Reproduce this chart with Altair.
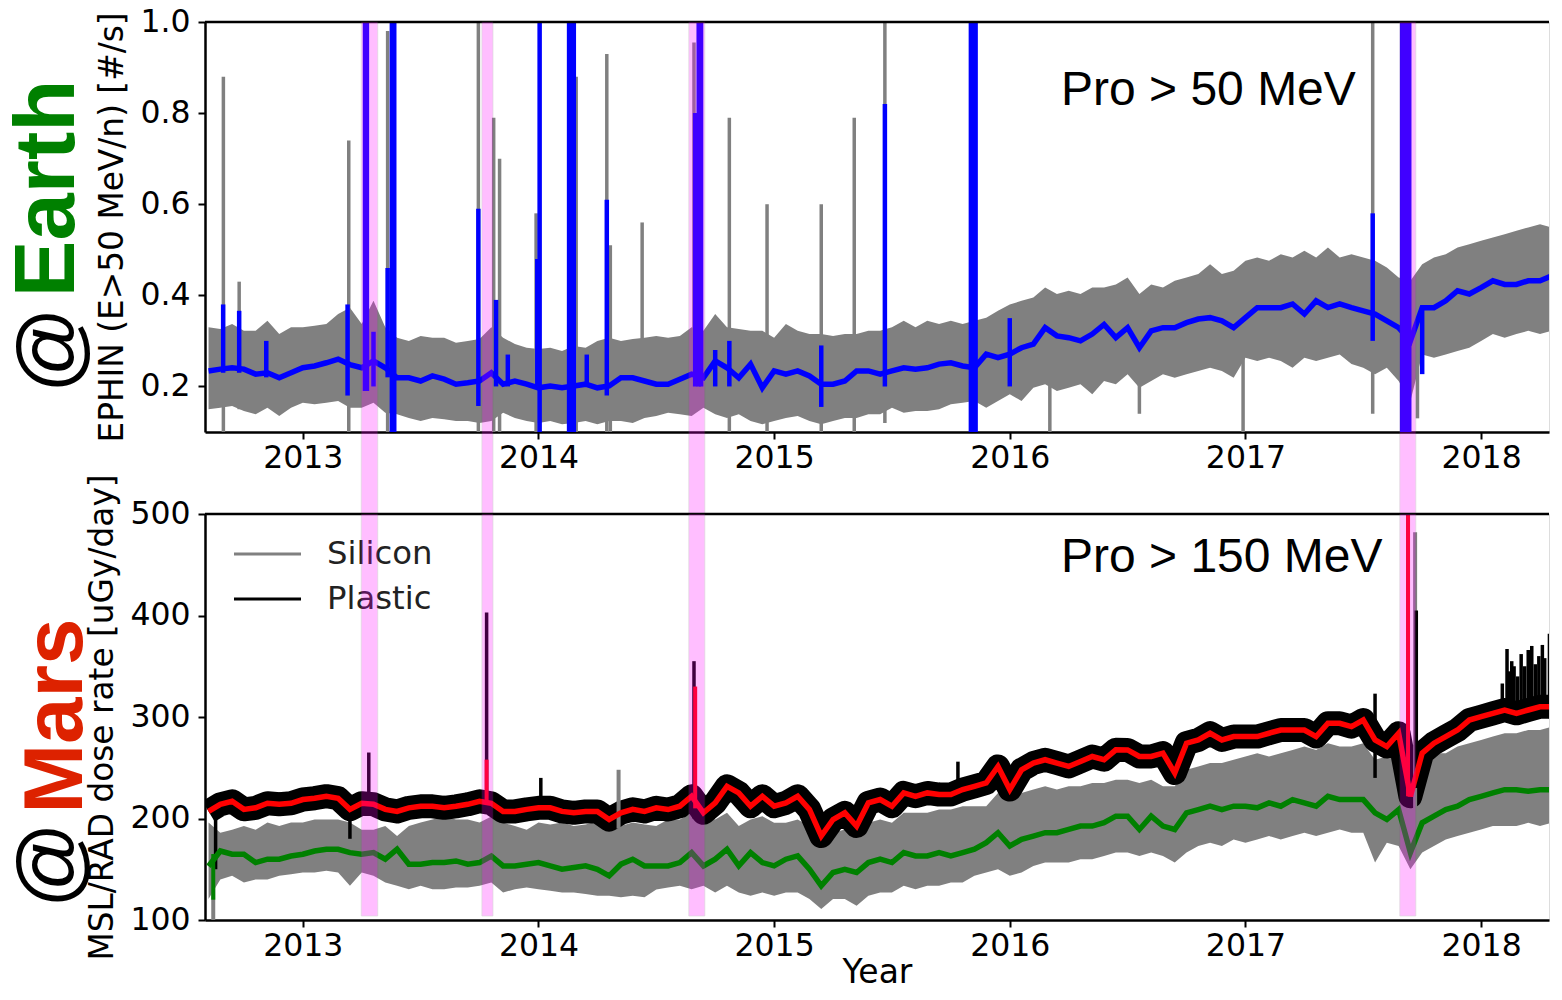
import altair as alt
import pandas as pd

# ---------------- data ----------------
years = [
    2012.60, 2012.65, 2012.70, 2012.75, 2012.80, 2012.85, 2012.90, 2012.95, 2013.00, 2013.05,
    2013.10, 2013.15, 2013.20, 2013.25, 2013.30, 2013.35, 2013.40, 2013.45, 2013.50, 2013.55,
    2013.60, 2013.65, 2013.70, 2013.75, 2013.80, 2013.85, 2013.90, 2013.95, 2014.00, 2014.05,
    2014.10, 2014.15, 2014.20, 2014.25, 2014.30, 2014.35, 2014.40, 2014.45, 2014.50, 2014.55,
    2014.60, 2014.65, 2014.70, 2014.75, 2014.80, 2014.85, 2014.90, 2014.95, 2015.00, 2015.05,
    2015.10, 2015.15, 2015.20, 2015.25, 2015.30, 2015.35, 2015.40, 2015.45, 2015.50, 2015.55,
    2015.60, 2015.65, 2015.70, 2015.75, 2015.80, 2015.85, 2015.90, 2015.95, 2016.00, 2016.05,
    2016.10, 2016.15, 2016.20, 2016.25, 2016.30, 2016.35, 2016.40, 2016.45, 2016.50, 2016.55,
    2016.60, 2016.65, 2016.70, 2016.75, 2016.80, 2016.85, 2016.90, 2016.95, 2017.00, 2017.05,
    2017.10, 2017.15, 2017.20, 2017.25, 2017.30, 2017.35, 2017.40, 2017.45, 2017.50, 2017.55,
    2017.60, 2017.65, 2017.70, 2017.75, 2017.80, 2017.85, 2017.90, 2017.95, 2018.00, 2018.05,
    2018.10, 2018.15, 2018.20, 2018.25, 2018.30, 2018.35,
]

# Earth: EPHIN raw count envelope (upper / lower) and smoothed rate
ephin_hi = [
    0.330, 0.326, 0.337, 0.322, 0.322, 0.344, 0.315, 0.330, 0.330, 0.333,
    0.337, 0.359, 0.373, 0.337, 0.388, 0.330, 0.307, 0.300, 0.311, 0.307,
    0.307, 0.296, 0.300, 0.304, 0.330, 0.307, 0.293, 0.285, 0.282, 0.285,
    0.278, 0.289, 0.285, 0.300, 0.307, 0.300, 0.304, 0.307, 0.311, 0.307,
    0.311, 0.330, 0.322, 0.359, 0.330, 0.326, 0.322, 0.322, 0.307, 0.337,
    0.322, 0.315, 0.315, 0.311, 0.315, 0.315, 0.322, 0.322, 0.330, 0.344,
    0.330, 0.344, 0.337, 0.344, 0.337, 0.344, 0.351, 0.366, 0.380, 0.388,
    0.395, 0.417, 0.403, 0.410, 0.403, 0.417, 0.417, 0.424, 0.439, 0.403,
    0.424, 0.417, 0.432, 0.439, 0.447, 0.468, 0.447, 0.454, 0.476, 0.483,
    0.476, 0.490, 0.483, 0.498, 0.483, 0.505, 0.483, 0.490, 0.483, 0.476,
    0.461, 0.439, 0.432, 0.468, 0.483, 0.490, 0.505, 0.512, 0.520, 0.527,
    0.534, 0.542, 0.549, 0.556, 0.549, 0.542,
]
ephin_lo = [
    0.150, 0.153, 0.157, 0.146, 0.139, 0.153, 0.135, 0.153, 0.164, 0.161,
    0.164, 0.168, 0.153, 0.153, 0.164, 0.142, 0.139, 0.131, 0.124, 0.131,
    0.128, 0.124, 0.124, 0.120, 0.124, 0.142, 0.131, 0.124, 0.120, 0.124,
    0.117, 0.120, 0.124, 0.117, 0.124, 0.124, 0.120, 0.131, 0.135, 0.142,
    0.139, 0.135, 0.153, 0.139, 0.131, 0.139, 0.124, 0.117, 0.124, 0.131,
    0.135, 0.124, 0.117, 0.124, 0.131, 0.131, 0.139, 0.139, 0.153, 0.142,
    0.146, 0.146, 0.150, 0.161, 0.164, 0.168, 0.153, 0.168, 0.183, 0.168,
    0.197, 0.205, 0.190, 0.197, 0.205, 0.183, 0.212, 0.205, 0.227, 0.197,
    0.212, 0.227, 0.219, 0.227, 0.234, 0.241, 0.234, 0.219, 0.263, 0.256,
    0.263, 0.256, 0.241, 0.263, 0.256, 0.263, 0.270, 0.249, 0.241, 0.227,
    0.241, 0.212, 0.168, 0.270, 0.263, 0.270, 0.278, 0.285, 0.300, 0.315,
    0.307, 0.315, 0.322, 0.315, 0.322, 0.329,
]
ephin_smooth = [
    0.234, 0.238, 0.241, 0.238, 0.227, 0.230, 0.219, 0.230, 0.241, 0.245,
    0.252, 0.260, 0.248, 0.241, 0.256, 0.241, 0.219, 0.219, 0.212, 0.223,
    0.216, 0.205, 0.208, 0.212, 0.230, 0.205, 0.212, 0.205, 0.197, 0.201,
    0.197, 0.201, 0.205, 0.197, 0.201, 0.219, 0.219, 0.212, 0.205, 0.205,
    0.216, 0.227, 0.219, 0.256, 0.241, 0.219, 0.249, 0.197, 0.234, 0.227,
    0.234, 0.223, 0.205, 0.205, 0.212, 0.234, 0.234, 0.227, 0.234, 0.241,
    0.238, 0.241, 0.249, 0.252, 0.245, 0.241, 0.271, 0.263, 0.271, 0.285,
    0.293, 0.329, 0.311, 0.307, 0.300, 0.315, 0.336, 0.307, 0.329, 0.285,
    0.322, 0.329, 0.329, 0.340, 0.348, 0.351, 0.344, 0.329, 0.351, 0.373,
    0.373, 0.373, 0.381, 0.359, 0.388, 0.373, 0.381, 0.373, 0.366, 0.359,
    0.344, 0.329, 0.300, 0.373, 0.373, 0.388, 0.410, 0.403, 0.417, 0.432,
    0.424, 0.424, 0.432, 0.432, 0.443, 0.424,
]

# Earth: isolated short spikes (raw = gray, smoothed = blue)
ephin_gray_spike_year = [2012.663, 2012.730, 2013.195, 2013.360, 2013.745, 2013.810, 2013.835,
                         2013.990, 2014.130, 2014.160, 2014.290, 2014.305, 2014.440, 2014.660,
                         2014.810, 2014.970, 2015.200, 2015.340, 2015.470, 2015.850, 2016.170,
                         2016.550, 2016.990, 2017.540, 2017.730]
ephin_gray_spike_lo = [0.10, 0.15, 0.10, 0.10, 0.10, 0.10, 0.10, 0.10, 0.10, 0.10, 0.10, 0.10,
                       0.15, 0.15, 0.10, 0.10, 0.10, 0.10, 0.12, 0.10, 0.10, 0.14, 0.10, 0.14, 0.13]
ephin_gray_spike_hi = [0.88, 0.43, 0.74, 0.98, 1.00, 0.79, 0.70, 0.58, 1.00, 0.88, 0.93, 0.51,
                       0.56, 0.955, 0.79, 0.60, 0.60, 0.79, 1.00, 1.00, 0.25, 0.30, 0.30, 1.00, 0.40]

ephin_blue_spike_year = [2012.662, 2012.730, 2012.845, 2013.190, 2013.264, 2013.272, 2013.300,
                         2013.360, 2013.378, 2013.388, 2013.745, 2013.820, 2013.870, 2013.995,
                         2014.005, 2014.130, 2014.140, 2014.150, 2014.205, 2014.290, 2014.665,
                         2014.680, 2014.690, 2014.750, 2014.810, 2015.200, 2015.470, 2015.835,
                         2015.845, 2015.855, 2016.000, 2017.540, 2017.665, 2017.680, 2017.695,
                         2017.750]
ephin_blue_spike_lo = [0.23, 0.23, 0.22, 0.18, 0.19, 0.19, 0.20, 0.22, 0.10, 0.10,
                       0.157, 0.20, 0.20, 0.20, 0.10, 0.10, 0.10, 0.10, 0.20, 0.18,
                       0.20, 0.20, 0.20, 0.20, 0.20, 0.155, 0.20, 0.10, 0.10, 0.10,
                       0.20, 0.30, 0.10, 0.10, 0.10, 0.227]
ephin_blue_spike_hi = [0.38, 0.366, 0.30, 0.38, 1.00, 1.00, 0.32, 0.46, 1.00, 1.00,
                       0.59, 0.39, 0.27, 0.48, 1.00, 1.00, 1.00, 1.00, 0.27, 0.61,
                       0.80, 1.00, 1.00, 0.28, 0.30, 0.29, 0.82, 1.00, 1.00, 1.00,
                       0.35, 0.58, 1.00, 1.00, 1.00, 0.37]

# Mars: MSL/RAD dose rates
plastic_smooth = [
    207, 214, 217, 209, 210.5, 215, 214, 215, 218.7, 220,
    222, 220, 209, 215, 214, 209, 207, 210.5, 212, 212,
    210.5, 212, 214, 217, 215, 207, 207, 209, 210.5, 210.5,
    207, 205.6, 207, 207, 199, 205.6, 209, 207, 210.5, 208.8,
    212.1, 221.9, 205.6, 215.4, 231.7, 225.2, 212.1, 221.9, 212.1, 215.4,
    221.9, 208.8, 182.7, 199, 205.6, 192.5, 215.4, 218.7, 212.1, 225.2,
    221.9, 225.2, 223.6, 223.6, 228.5, 231.7, 235, 251.3, 228.5, 248,
    254.6, 257.9, 254.6, 251.3, 256.2, 261.1, 257.9, 267.7, 267.6, 261.1,
    261.1, 264.4, 244.8, 274.2, 277.4, 284, 277.4, 280.7, 280.7, 280.7,
    284, 287.2, 287.2, 287.2, 280.7, 293.8, 293.8, 290.5, 297, 277.4,
    270.9, 284, 221.9, 264.4, 274.2, 280.7, 287.2, 297, 300.3, 303.6,
    306.9, 303.6, 306.9, 310.1, 310.1, 303.6,
]
silicon_smooth = [
    153, 168, 164.8, 164.8, 156.6, 159.9, 159.9, 163, 164.8, 168,
    169.7, 169.7, 166.4, 164.8, 166.4, 159.9, 169.7, 155, 155, 156.6,
    156.6, 158.2, 155, 156.6, 163, 153.3, 153.3, 155, 156.6, 153.3,
    150, 151.7, 153.3, 150, 143.5, 155, 159.9, 153.3, 153.3, 153.3,
    156.6, 166.4, 153.3, 159.9, 169.7, 153.3, 166.4, 156.6, 153.3, 159.9,
    163.1, 150, 133.7, 146.8, 150, 146.8, 156.6, 159.9, 156.6, 166.4,
    163.1, 163.1, 166.4, 163.1, 166.4, 169.7, 176.2, 186, 172.9, 179.4,
    182.7, 186, 186, 189.2, 192.5, 192.5, 195.8, 202.3, 202.3, 189.2,
    202.3, 192.5, 189.2, 205.5, 208.8, 212.1, 208.8, 212.1, 212.1, 210.5,
    215.4, 212.1, 218.6, 215.4, 212.1, 221.9, 218.6, 218.6, 218.6, 205.5,
    199, 208.8, 166.4, 195.8, 202.3, 208.8, 212.1, 218.6, 221.9, 225.2,
    228.4, 228.4, 226.8, 228.4, 228.4, 225.2,
]
silicon_hi = [
    196, 186, 189, 192.5, 189, 196, 192.5, 196, 196, 199,
    199, 199, 196, 189, 189, 192.5, 182.7, 192.5, 196, 199,
    202, 199, 199, 196, 202, 196, 192.5, 189, 196, 194,
    196, 192.5, 194, 197.4, 191, 192.5, 196, 194, 192.5, 199,
    199, 205.6, 202.3, 199, 205.6, 192.5, 199, 202.3, 195.8, 195.8,
    199, 192.5, 176.2, 186, 189.2, 182.7, 195.8, 199, 195.8, 205.6,
    205.6, 205.6, 208.8, 208.8, 212.1, 212.1, 212.1, 225.2, 218.7, 225.2,
    228.5, 231.7, 228.5, 231.7, 231.7, 235, 235, 238.3, 238.3, 235,
    238.3, 231.7, 231.7, 248, 251.3, 254.6, 254.6, 257.8, 261.1, 264.4,
    261.1, 264.4, 267.6, 270.9, 267.6, 274.2, 270.9, 270.9, 274.2, 257.8,
    261.1, 264.4, 251.3, 257.8, 264.4, 264.4, 270.9, 274.2, 277.4, 280.7,
    284, 284, 287.2, 287.2, 290.5, 290.5,
]
silicon_lo = [
    120.6, 140, 143.5, 137, 140, 140, 143.5, 145, 146.8, 146.8,
    148.4, 146.8, 133.7, 146.8, 143.5, 137, 133.7, 130.4, 133.7, 130.4,
    130.4, 132, 132, 133.7, 137, 127, 130.4, 132, 130.4, 128.8,
    127, 127, 125.5, 123.9, 123.9, 122.3, 123.9, 122.3, 130, 132,
    133.7, 130.4, 133.7, 127.2, 133.7, 127.2, 123.9, 127.2, 123.9, 127.2,
    127.2, 120.6, 110.8, 120.6, 120.6, 114.1, 123.9, 127.2, 127.2, 133.7,
    130.4, 133.7, 133.7, 137, 137, 143.5, 146.8, 150, 143.5, 146.8,
    153.3, 156.6, 156.6, 156.6, 159.9, 159.9, 163.1, 166.4, 166.4, 163.1,
    166.4, 163.1, 156.6, 166.4, 172.9, 176.1, 172.9, 179.4, 176.1, 179.4,
    182.7, 179.4, 182.7, 186, 182.7, 186, 189.2, 186, 186, 156.6,
    176.1, 172.9, 150, 166.4, 172.9, 179.4, 182.7, 186, 189.2, 192.5,
    192.5, 192.5, 195.8, 192.5, 195.8, 186,
]

plastic_spike_year = [2012.630, 2013.200, 2013.280, 2013.780, 2014.010, 2014.660, 2015.780,
                      2017.550, 2017.690, 2017.725, 2018.090, 2018.110, 2018.120, 2018.130,
                      2018.140, 2018.155, 2018.170, 2018.185, 2018.200, 2018.215, 2018.230,
                      2018.245, 2018.260, 2018.270, 2018.290, 2018.300, 2018.310, 2018.320,
                      2018.330, 2018.340]
plastic_spike_lo = [150, 180, 210, 215, 210, 200, 220, 240, 222, 230,
                    300, 300, 300, 300, 300, 300, 300, 300, 300, 300,
                    300, 300, 300, 300, 300, 300, 300, 300, 300, 300]
plastic_spike_hi = [200, 210, 265, 403, 240, 355, 256, 323, 500, 405,
                    333, 367, 345, 355, 350, 340, 362, 350, 366, 370,
                    352, 360, 371, 358, 382, 370, 388, 375, 400, 392]
red_spike_year = [2013.780, 2014.665, 2017.690]
red_spike_lo = [215, 210, 222]
red_spike_hi = [258, 330, 500]
silicon_spike_year = [2012.620, 2014.340, 2017.720]
silicon_spike_lo = [100, 190, 160]
silicon_spike_hi = [160, 248, 482]
green_spike_year = [2012.620]
green_spike_lo = [120]
green_spike_hi = [165]

# shaded solar-event intervals
pink_start = [2013.248, 2013.760, 2014.638, 2017.655]
pink_end = [2013.318, 2013.807, 2014.706, 2017.723]

# texts
x_ticks = [2013, 2014, 2015, 2016, 2017, 2018]
top_y_ticks = [0.2, 0.4, 0.6, 0.8, 1.0]
bot_y_ticks = [100, 200, 300, 400, 500]
top_title = "EPHIN (E>50 MeV/n) [#/s]"
bot_title = "MSL/RAD dose rate [uGy/day]"
top_note = "Pro > 50 MeV"
bot_note = "Pro > 150 MeV"
legend_labels = ["Silicon", "Plastic"]
legend_colors = ["#808080", "#000000"]

# ---------------- layout constants ----------------
PX_PER_YEAR = 235.66
X0 = 2012.585
W = 1344
H1 = 410
H2 = 406
GAP = 82
FONT = "DejaVu Sans"

xscale = alt.Scale(domain=[X0, X0 + W / PX_PER_YEAR], nice=False, zero=False)
y1scale = alt.Scale(domain=[0.1, 1.0], nice=False, zero=False)
y2scale = alt.Scale(domain=[100, 500], nice=False, zero=False)

axis_common = dict(labelFont=FONT, labelFontSize=31.5, labelColor="black",
                   tickColor="black", tickSize=7, tickWidth=2,
                   domainColor="black", domainWidth=2.5, grid=False,
                   titleFont=FONT, titleFontWeight="normal", titleColor="black")
x_axis_top = alt.Axis(values=x_ticks, format="d", title=None, labelPadding=3, **axis_common)
x_axis_bot = alt.Axis(values=x_ticks, format="d", title="Year", labelPadding=3,
                      titleFontSize=33, titlePadding=-5, **axis_common)
y_axis_top = alt.Axis(values=top_y_ticks, format=".1f", title=top_title, titleFontSize=32.8,
                      labelPadding=8, titlePadding=10, **axis_common)
y_axis_bot = alt.Axis(values=bot_y_ticks, format="d", title=bot_title, titleFontSize=32.8,
                      labelPadding=8, titlePadding=10, **axis_common)


def X(field, axis):
    return alt.X(f"{field}:Q", scale=xscale, axis=axis)


def txt(label):
    return alt.Chart(pd.DataFrame({"t": [label]}))


# ---------------- top panel (Earth) ----------------
top_df = pd.DataFrame({"year": years, "hi": ephin_hi, "lo": ephin_lo, "val": ephin_smooth})
gspk = pd.DataFrame({"year": ephin_gray_spike_year, "lo": ephin_gray_spike_lo, "hi": ephin_gray_spike_hi})
bspk = pd.DataFrame({"year": ephin_blue_spike_year, "lo": ephin_blue_spike_lo, "hi": ephin_blue_spike_hi})
pink_df = pd.DataFrame({"year": pink_start, "year_end": pink_end})


def Y1(field):
    return alt.Y(f"{field}:Q", scale=y1scale, axis=y_axis_top)


t_band = alt.Chart(top_df).mark_area(color="#808080", clip=True).encode(
    x=X("year", x_axis_top), y=Y1("hi"), y2="lo:Q")
t_gspk = alt.Chart(gspk).mark_rule(color="#808080", strokeWidth=3.5, clip=True).encode(
    x=X("year", x_axis_top), y=Y1("lo"), y2="hi:Q")
t_line = alt.Chart(top_df).mark_line(color="#0000ff", strokeWidth=5.5, clip=True).encode(
    x=X("year", x_axis_top), y=Y1("val"))
t_bspk = alt.Chart(bspk).mark_rule(color="#0000ff", strokeWidth=4.5, clip=True).encode(
    x=X("year", x_axis_top), y=Y1("lo"), y2="hi:Q")
t_spine = alt.Chart(pd.DataFrame({"a": [0]})).mark_rule(color="black", strokeWidth=2.5).encode(
    x=alt.value(0), x2=alt.value(W), y=alt.value(0))
t_note = txt(top_note).mark_text(font="Liberation Sans", fontSize=48, align="left",
                                 baseline="middle", color="black").encode(
    text="t:N", x=alt.value(856), y=alt.value(69))
t_at = txt("@").mark_text(font="Liberation Sans", fontSize=85, angle=270, align="center",
                          baseline="middle", color="black").encode(
    text="t:N", x=alt.value(-153), y=alt.value(328))
t_earth = txt("Earth").mark_text(font="Liberation Sans", fontSize=85, fontWeight="bold",
                                 angle=270, align="center", baseline="middle",
                                 color="#008000").encode(
    text="t:N", x=alt.value(-157), y=alt.value(166.5))
t_pink = alt.Chart(pink_df).mark_rect(color="#ff00ff", opacity=0.25, stroke="#606060",
                                      strokeOpacity=0.6, strokeWidth=1).encode(
    x=X("year", x_axis_top), x2="year_end:Q", y=alt.value(0), y2=alt.value(H1 + GAP))

top = alt.layer(t_band, t_gspk, t_line, t_bspk, t_spine, t_note, t_at, t_earth, t_pink
                ).properties(width=W, height=H1)

# ---------------- bottom panel (Mars) ----------------
bot_df = pd.DataFrame({"year": years, "pl": plastic_smooth, "si": silicon_smooth,
                       "hi": silicon_hi, "lo": silicon_lo})
pspk = pd.DataFrame({"year": plastic_spike_year, "lo": plastic_spike_lo, "hi": plastic_spike_hi})
rspk = pd.DataFrame({"year": red_spike_year, "lo": red_spike_lo, "hi": red_spike_hi})
sspk = pd.DataFrame({"year": silicon_spike_year, "lo": silicon_spike_lo, "hi": silicon_spike_hi})
grspk = pd.DataFrame({"year": green_spike_year, "lo": green_spike_lo, "hi": green_spike_hi})


def Y2(field):
    return alt.Y(f"{field}:Q", scale=y2scale, axis=y_axis_bot)


b_si = alt.Chart(bot_df).mark_area(color="#808080", clip=True).encode(
    x=X("year", x_axis_bot), y=Y2("hi"), y2="lo:Q")
# raw plastic dose spread drawn as a wide black stroke around the plastic series
b_pl_raw = alt.Chart(bot_df).mark_line(color="black", strokeWidth=24, strokeJoin="round",
                                       clip=True).encode(
    x=X("year", x_axis_bot), y=Y2("pl"))
b_sspk = alt.Chart(sspk).mark_rule(color="#808080", strokeWidth=4, clip=True).encode(
    x=X("year", x_axis_bot), y=Y2("lo"), y2="hi:Q")
b_pspk = alt.Chart(pspk).mark_rule(color="black", strokeWidth=3.5, clip=True).encode(
    x=X("year", x_axis_bot), y=Y2("lo"), y2="hi:Q")
b_red = alt.Chart(bot_df).mark_line(color="#ff0000", strokeWidth=5.5, clip=True).encode(
    x=X("year", x_axis_bot), y=Y2("pl"))
b_rspk = alt.Chart(rspk).mark_rule(color="#ff0000", strokeWidth=4, clip=True).encode(
    x=X("year", x_axis_bot), y=Y2("lo"), y2="hi:Q")
b_green = alt.Chart(bot_df).mark_line(color="#008000", strokeWidth=5.5, clip=True).encode(
    x=X("year", x_axis_bot), y=Y2("si"))
b_grspk = alt.Chart(grspk).mark_rule(color="#008000", strokeWidth=4, clip=True).encode(
    x=X("year", x_axis_bot), y=Y2("lo"), y2="hi:Q")
b_spine = alt.Chart(pd.DataFrame({"a": [0]})).mark_rule(color="black", strokeWidth=2.5).encode(
    x=alt.value(0), x2=alt.value(W), y=alt.value(0))

leg_layers = []
for i, (lab, col) in enumerate(zip(legend_labels, legend_colors)):
    yy = 40 + 45 * i
    leg_layers.append(txt(lab).mark_rule(color=col, strokeWidth=3).encode(
        x=alt.value(29), x2=alt.value(96), y=alt.value(yy)))
    leg_layers.append(txt(lab).mark_text(font=FONT, fontSize=32.3, align="left",
                                         baseline="middle", color="#222222").encode(
        text="t:N", x=alt.value(122), y=alt.value(yy)))

b_note = txt(bot_note).mark_text(font="Liberation Sans", fontSize=48, align="left",
                                 baseline="middle", color="black").encode(
    text="t:N", x=alt.value(856), y=alt.value(44))
b_at = txt("@").mark_text(font="Liberation Sans", fontSize=85, angle=270, align="center",
                          baseline="middle", color="black").encode(
    text="t:N", x=alt.value(-153), y=alt.value(351))
b_mars = txt("Mars").mark_text(font="Liberation Sans", fontSize=83.5, fontWeight="bold",
                               angle=270, align="center", baseline="middle",
                               color="#dd2200").encode(
    text="t:N", x=alt.value(-148), y=alt.value(202))
b_pink = alt.Chart(pink_df).mark_rect(color="#ff00ff", opacity=0.25, stroke="#606060",
                                      strokeOpacity=0.6, strokeWidth=1).encode(
    x=X("year", x_axis_bot), x2="year_end:Q", y=alt.value(0), y2=alt.value(H2 - 4))

bottom = alt.layer(b_si, b_pl_raw, b_sspk, b_pspk, b_red, b_rspk, b_green, b_grspk,
                   b_spine, *leg_layers, b_note, b_at, b_mars, b_pink
                   ).properties(width=W, height=H2)

chart = alt.vconcat(top, bottom, spacing=GAP, bounds="flush").properties(
    padding={"left": 5, "top": 5, "right": 0, "bottom": 0}
).configure_view(stroke=None).configure(background="white")

chart.save("out.html", embed_options={"renderer": "svg", "actions": False})
